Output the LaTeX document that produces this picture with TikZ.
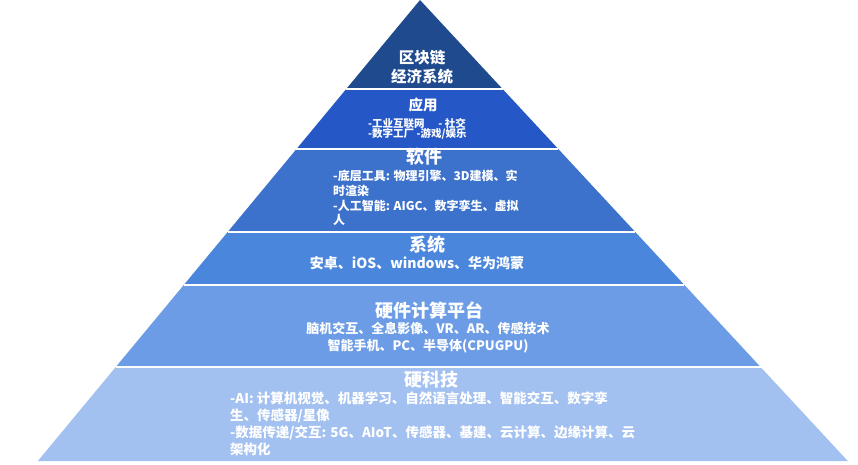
\documentclass[tikz,border=0pt]{standalone}
\usepackage{fontspec}
\setmainfont{Noto Sans CJK SC}
\usepackage{tikz}
\definecolor{chainblue}{HTML}{1F4B8E}
\definecolor{appblue}{HTML}{2558C6}
\definecolor{softblue}{HTML}{3C71CC}
\definecolor{osblue}{HTML}{4B86DD}
\definecolor{hwblue}{HTML}{6C9CE5}
\definecolor{techblue}{HTML}{A3C1F0}
\newcommand{\lfont}[2]{\bfseries\fontsize{#1}{#2}\selectfont}
\tikzset{
	layertitle/.style={text=white, inner sep=0pt, font=\lfont{18}{20}},
	layertext/.style={text=white, inner sep=0pt, align=#1},
	layertext/.default=center
}

\begin{document}
\begin{tikzpicture}[x=1pt,y=-1pt]
	\useasboundingbox (0,0) rectangle (858,465);
	\foreach \ya/\yb/\col in {0/89/chainblue, 89/149/appblue, 149/232/softblue, 232/285/osblue, 285/367/hwblue, 367/461/techblue}
		\fill[\col] ({420-0.829*\ya},\ya) -- ({420+0.928*\ya},\ya) -- ({420+0.928*\yb},\yb) -- ({420-0.829*\yb},\yb) -- cycle;
	\foreach \y in {89,149,232,285,367}
		\draw[white, line width=1.5pt] ({420-0.829*\y},\y) -- ({420+0.928*\y},\y);
	\node[layertext, font=\lfont{15.5}{19}] (chain) at (422,67.5) {区块链\\经济系统};
	\node[layertitle, font=\lfont{14.5}{16}] (app) at (423,105) {应用};
	\node[layertext=left, anchor=west, font=\lfont{10.5}{10.5}] (apptext) at (368,129) {-工业互联网\hspace{1.3em}- 社交\\-数字工厂 -游戏/娱乐};
	\node[layertitle] (soft) at (424,157) {软件};
	\node[layertext=left, anchor=west, font=\lfont{12}{14.7}] (softtext) at (333,198) {-底层工具: 物理引擎、3D建模、实\\时渲染\\-人工智能: AIGC、数字孪生、虚拟\\人};
	\node[layertitle] (os) at (427,245) {系统};
	\node[layertext, font=\lfont{14}{16}] (ostext) at (417,263) {安卓、iOS、windows、华为鸿蒙};
	\node[layertitle] (hw) at (429,310) {硬件计算平台};
	\node[layertext, font=\lfont{13}{17}] (hwtext) at (428,337.5) {脑机交互、全息影像、VR、AR、传感技术\\智能手机、PC、半导体(CPUGPU)};
	\node[layertitle] (tech) at (431,380) {硬科技};
	\node[layertext=left, anchor=west, font=\lfont{13.5}{17}] (techtext) at (230,423.5) {-AI: 计算机视觉、机器学习、自然语言处理、智能交互、数字孪\\生、传感器/星像\\-数据传递/交互: 5G、AIoT、传感器、基建、云计算、边缘计算、云\\架构化};
\end{tikzpicture}
\end{document}
